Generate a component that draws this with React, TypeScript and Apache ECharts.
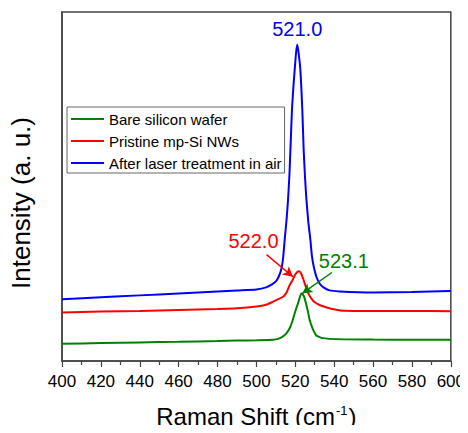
import React, { useEffect, useRef } from "react";
import * as echarts from "echarts";

const blueShift = [400, 420, 440, 460, 480, 490, 500, 505, 508, 510, 511.5, 512.9, 513.8, 514.6, 515.5, 516.3, 517, 517.5, 518.3, 519, 519.7, 520.4, 521, 521.7, 522.6, 523.6, 524.3, 525, 525.7, 526.7, 527.7, 528.6, 529.7, 531, 532.5, 534.5, 537.6, 542.7, 560, 580, 600];
const blueIntensity = [62, 64, 66, 68, 70, 71, 72, 74, 77, 80, 85, 93, 105, 123, 142, 163, 188, 213, 253, 275, 293, 310, 318, 310, 293, 253, 213, 185, 163, 140, 123, 105, 93, 84, 78, 74, 71, 70, 69, 69.5, 70.5];

const redShift = [400, 420, 440, 460, 480, 490, 500, 505, 508.6, 511, 513.7, 515.5, 517.1, 518.5, 519.7, 521, 522, 523, 524, 525, 525.7, 527, 528.2, 530, 532.5, 535, 537.6, 545, 560, 580, 600];
const redIntensity = [48.7, 49.7, 50.3, 51.3, 52.3, 53, 54.7, 56.5, 59.7, 62, 64.7, 69, 76.3, 81, 86, 89.5, 90.3, 88, 83, 77, 73, 67, 63, 59, 56.3, 54.5, 53, 50.5, 50.3, 50.3, 50];

const greenShift = [400, 420, 440, 460, 480, 490, 500, 508.6, 511.5, 513.7, 515.5, 517.1, 518.5, 519.7, 520.5, 521.4, 522.3, 523.1, 524, 524.8, 525.6, 526.5, 527.3, 528.2, 529.5, 530.8, 532.5, 534.2, 541, 560, 580, 600];
const greenIntensity = [17.3, 18, 18.7, 19.3, 20, 20.5, 20.8, 21.3, 22.5, 24.7, 28, 33, 40, 48, 53, 58, 64, 68, 66.5, 63, 57, 49.7, 42, 36.3, 30, 25.7, 24, 23, 22, 21.5, 21.3, 21.3];

const seriesNames = ["Bare silicon wafer", "Pristine mp-Si NWs", "After laser treatment in air"];
const seriesColors = ["#008000", "#ff0000", "#0000ff"];

// peak labels: [shift, intensity, text]
const peakLabels: [number, number, string][] = [
  [521, 334, "521.0"],
  [498.5, 121, "522.0"],
  [545, 101, "523.1"],
];
// arrows: [fromShift, fromInt, toShift, toInt]
const redArrow = [505.2, 107, 518.8, 84.7];
const greenArrow = [538.8, 89, 523.6, 68];

const FONT = "'Liberation Sans', Arial, sans-serif";

function zip(xs: number[], ys: number[]) {
  return xs.map((x, i) => [x, ys[i]]);
}

export default function App() {
  const ref = useRef<HTMLDivElement>(null);
  useEffect(() => {
    if (!ref.current) return;
    const chart = echarts.init(ref.current, undefined, { renderer: "svg" });
    const datas = [zip(greenShift, greenIntensity), zip(redShift, redIntensity), zip(blueShift, blueIntensity)];
    const series: any[] = datas.map((d, i) => ({
      name: seriesNames[i],
      type: "line",
      data: d,
      showSymbol: false,
      symbol: "none",
      smooth: 0.2,
      lineStyle: { color: seriesColors[i], width: 2 },
      itemStyle: { color: seriesColors[i] },
      z: 3 - i,
    }));
    const labelColors = ["#0000ff", "#ff0000", "#008000"];
    series.push({
      type: "line",
      data: [],
      silent: true,
      markPoint: {
        symbol: "circle",
        symbolSize: 0,
        data: peakLabels.map((p, i) => ({
          coord: [p[0], p[1]],
          value: p[2],
          label: {
            show: true,
            position: "inside",
            formatter: p[2],
            color: labelColors[i],
            fontSize: 20,
            fontFamily: FONT,
          },
        })),
      },
      markLine: {
        silent: true,
        symbol: ["none", "arrow"],
        symbolSize: [8, 10],
        label: { show: false },
        data: [
          [
            { coord: [redArrow[0], redArrow[1]], lineStyle: { color: "#ff0000", width: 1.5, type: "solid" }, itemStyle: { color: "#ff0000" } },
            { coord: [redArrow[2], redArrow[3]] },
          ],
          [
            { coord: [greenArrow[0], greenArrow[1]], lineStyle: { color: "#008000", width: 1.5, type: "solid" }, itemStyle: { color: "#008000" } },
            { coord: [greenArrow[2], greenArrow[3]] },
          ],
        ],
      },
    });
    chart.setOption({
      animation: false,
      backgroundColor: "#ffffff",
      grid: { left: 61, right: 16, top: 12, bottom: 70, show: true, borderColor: "#444", borderWidth: 1.5, backgroundColor: "transparent" },
      legend: {
        orient: "vertical",
        left: 67,
        top: 107,
        data: seriesNames.map((n) => ({ name: n, icon: "rect" })),
        itemWidth: 33,
        itemHeight: 2,
        itemGap: 6,
        padding: [4, 3, 2, 4],
        borderColor: "#666",
        borderWidth: 1,
        backgroundColor: "#fff",
        textStyle: { fontSize: 15, fontFamily: FONT, color: "#000", lineHeight: 16 },
      },
      xAxis: {
        type: "value",
        min: 400,
        max: 600,
        interval: 20,
        name: "Raman Shift (cm{sup|-1})",
        nameLocation: "middle",
        nameGap: 43,
        nameTextStyle: {
          fontSize: 24,
          fontFamily: FONT,
          color: "#000",
          rich: { sup: { fontSize: 13, fontFamily: FONT, color: "#000", verticalAlign: "top", padding: [0, 1, 0, 1] } },
        },
        axisLine: { show: true, lineStyle: { color: "#444", width: 1.5 } },
        axisTick: { show: true, inside: false, length: 6, lineStyle: { color: "#444", width: 1.2 } },
        minorTick: { show: true, splitNumber: 2, length: 4, lineStyle: { color: "#444", width: 1.2 } },
        axisLabel: { fontSize: 17, fontFamily: FONT, color: "#000", margin: 12 },
        splitLine: { show: false },
      },
      yAxis: {
        type: "value",
        min: 0,
        max: 351,
        name: "Intensity (a. u.)",
        nameLocation: "middle",
        nameGap: 28,
        nameTextStyle: { fontSize: 26, fontFamily: FONT, color: "#000", padding: [0, 33, 0, 0] },
        axisLine: { show: true, lineStyle: { color: "#444", width: 1.5 } },
        axisTick: { show: false },
        axisLabel: { show: false },
        splitLine: { show: false },
      },
      series,
    });
    return () => chart.dispose();
  }, []);
  return <div ref={ref} style={{ width: 468, height: 433, margin: -8 }} />;
}
